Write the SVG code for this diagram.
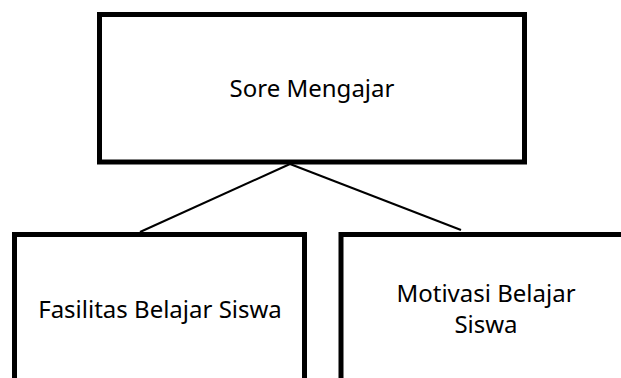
<svg xmlns="http://www.w3.org/2000/svg" width="621" height="378" viewBox="0 0 621 378">
  <style>
    .box { fill: #ffffff; stroke: #000000; stroke-width: 5; }
    .lbl { font-family: "Noto Sans", "Open Sans", sans-serif; font-size: 24px; fill: #000000; text-anchor: middle; }
    .conn { stroke: #000000; stroke-width: 2; fill: none; }
  </style>
  <rect width="621" height="378" fill="#ffffff"/>
  <g id="connectors">
    <line class="conn" x1="290" y1="164" x2="140" y2="232"/>
    <line class="conn" x1="290" y1="164" x2="461" y2="230"/>
  </g>
  <g id="node-sore-mengajar">
    <rect class="box" x="99.5" y="14.5" width="425" height="147.5"/>
    <text class="lbl" x="312" y="97">Sore Mengajar</text>
  </g>
  <g id="node-fasilitas">
    <rect class="box" x="14.5" y="234.5" width="290" height="170"/>
    <text class="lbl" x="160" y="318">Fasilitas Belajar Siswa</text>
  </g>
  <g id="node-motivasi">
    <rect class="box" x="341" y="234.5" width="300" height="170"/>
    <text class="lbl" x="486" y="302">Motivasi Belajar</text>
    <text class="lbl" x="486" y="333">Siswa</text>
  </g>
</svg>
